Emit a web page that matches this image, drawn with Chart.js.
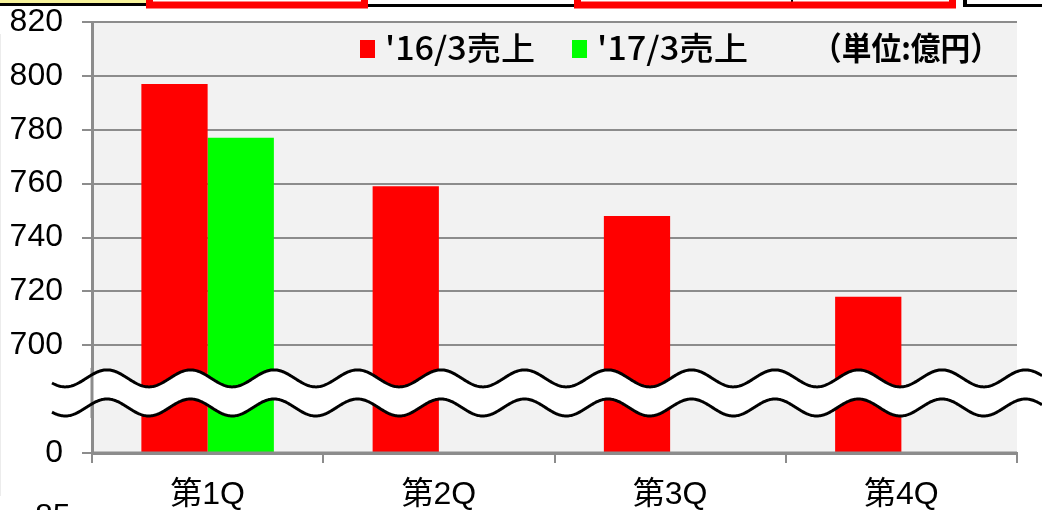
<!DOCTYPE html>
<html lang="ja">
<head>
<meta charset="utf-8">
<title>四半期売上</title>
<script src="https://cdn.jsdelivr.net/npm/chart.js@4.4.1/dist/chart.umd.min.js"></script>
<style>
  html, body { margin: 0; padding: 0; background: #fff; }
  #salesChart { display: block; }
</style>
</head>
<body>
<canvas id="salesChart" width="1042" height="510"></canvas>
<script>
const categories = ['第1Q', '第2Q', '第3Q', '第4Q'];
const sales16 = [797, 759, 748, 718];
const sales17 = [777, null, null, null];
const seriesLabels = ["'16/3売上", "'17/3売上"];
const seriesColors = ['#ff0000', '#00ff00'];
const unitLabel = '（単位:億円）';

// 縦軸は省略表示: 一番下の目盛り(660)を「0」として扱う
const yTickValues = [660, 680, 700, 720, 740, 760, 780, 800, 820];
const yTickLabels = ['0', '', '700', '720', '740', '760', '780', '800', '820'];

const AXIS_GRAY = '#8c8c8c';
const JP_FONT = "'Noto Sans CJK JP', 'Noto Sans', sans-serif";

// 横幅を指定してテキストを描く（詰まった書体に寄せるため）
function drawFitText(ctx, text, x, y, width) {
    const w = ctx.measureText(text).width;
    ctx.save();
    ctx.translate(x, y);
    ctx.scale(width / w, 1);
    ctx.fillText(text, 0, 0);
    ctx.restore();
}

// グラフ領域の背景
const plotBackground = {
    id: 'plotBackground',
    beforeDraw(chart) {
        const { ctx, chartArea: a } = chart;
        ctx.save();
        ctx.fillStyle = '#f2f2f2';
        ctx.fillRect(a.left, a.top, a.right - a.left, a.bottom - a.top);
        ctx.restore();
    }
};

// 波線の省略記号
const axisBreak = {
    id: 'axisBreak',
    afterDatasetsDraw(chart) {
        const { ctx, chartArea: a, scales: { y } } = chart;
        const upper = y.getPixelForValue(687.7);
        const lower = y.getPixelForValue(676.9);
        const amp = 8.5, period = 83.5, phase = 107;
        const x0 = 52, x1 = chart.width;
        const waveY = (cy, x) => cy - amp * Math.cos(2 * Math.PI * (x - phase) / period);

        ctx.save();
        ctx.beginPath();
        for (let x = x0; x <= x1; x++) ctx.lineTo(x, waveY(upper, x));
        for (let x = x1; x >= x0; x--) ctx.lineTo(x, waveY(lower, x));
        ctx.closePath();
        ctx.fillStyle = '#fff';
        ctx.fill();

        // 縦軸の線は波の間にも通す
        ctx.strokeStyle = AXIS_GRAY;
        ctx.lineWidth = 3;
        ctx.beginPath();
        ctx.moveTo(a.left, upper - amp - 2);
        ctx.lineTo(a.left, lower + amp + 2);
        ctx.stroke();

        // 横軸の線をバーの上に描き直す
        ctx.beginPath();
        ctx.moveTo(a.left, a.bottom);
        ctx.lineTo(a.right, a.bottom);
        ctx.stroke();

        ctx.strokeStyle = '#000';
        ctx.lineWidth = 3;
        [upper, lower].forEach(cy => {
            ctx.beginPath();
            for (let x = x0; x <= x1; x++) ctx.lineTo(x, waveY(cy, x));
            ctx.stroke();
        });
        ctx.restore();
    }
};

// 凡例と単位表記（グラフ領域の中）
const insideLegend = {
    id: 'insideLegend',
    afterDraw(chart) {
        const { ctx } = chart;
        const items = [
            { box: 360, text: 385, width: 150 },
            { box: 572, text: 597, width: 151 }
        ];
        ctx.save();
        ctx.textBaseline = 'middle';
        chart.data.datasets.forEach((ds, i) => {
            const it = items[i];
            ctx.fillStyle = ds.backgroundColor;
            ctx.fillRect(it.box, 40, 15, 18);
            ctx.fillStyle = '#000';
            ctx.font = `500 32px ${JP_FONT}`;
            drawFitText(ctx, ds.label, it.text, 48, it.width);
        });
        ctx.font = `bold 32px ${JP_FONT}`;
        drawFitText(ctx, unitLabel, 812, 48, 188);
        ctx.restore();
    }
};

// スライドの周りの枠線など
const pageFrame = {
    id: 'pageFrame',
    afterDraw(chart) {
        const { ctx } = chart;
        ctx.save();
        ctx.fillStyle = '#f7f39a';
        ctx.fillRect(0, 0, 146, 3);
        ctx.fillStyle = '#000';
        ctx.fillRect(0, 3, 146, 3);
        ctx.fillRect(368, 4, 207, 3);
        ctx.fillRect(963, 4, 79, 3);
        ctx.fillRect(963, 0, 4, 7);
        ctx.fillRect(791, 0, 2, 2);

        ctx.strokeStyle = '#ff0000';
        ctx.lineWidth = 7;
        ctx.strokeRect(149.5, -10, 215, 15);
        ctx.strokeRect(577.5, -10, 375, 15);

        ctx.fillStyle = '#ececec';
        ctx.fillRect(0, 34, 1, 462);

        ctx.fillStyle = '#000';
        ctx.font = "32px 'Liberation Sans', Arial, sans-serif";
        ctx.textBaseline = 'alphabetic';
        ctx.fillText('85', 35, 526);
        ctx.restore();
    }
};

class SalesChart {
    constructor(canvas) {
        this.chart = new Chart(canvas, {
            type: 'bar',
            data: {
                labels: categories,
                datasets: [
                    { label: seriesLabels[0], data: sales16, backgroundColor: seriesColors[0] },
                    { label: seriesLabels[1], data: sales17, backgroundColor: seriesColors[1] }
                ].map(ds => ({ ...ds, categoryPercentage: 0.573, barPercentage: 1.0, borderWidth: 0 }))
            },
            options: {
                responsive: false,
                animation: false,
                devicePixelRatio: 1,
                layout: { padding: { top: 22, right: 25, left: 0, bottom: 0 } },
                plugins: {
                    legend: { display: false },
                    tooltip: { enabled: false }
                },
                scales: {
                    x: {
                        grid: {
                            offset: true,
                            drawOnChartArea: false,
                            color: AXIS_GRAY,
                            lineWidth: 2,
                            tickLength: 10
                        },
                        border: { color: AXIS_GRAY, width: 3 },
                        ticks: {
                            color: '#000',
                            padding: 13,
                            font: { family: "'Liberation Sans', 'Noto Sans CJK JP', sans-serif", size: 32 }
                        },
                        afterFit: scale => {
                            scale.height = 57;
                            scale.paddingLeft = 0;
                            scale.paddingRight = 0;
                        }
                    },
                    y: {
                        min: yTickValues[0],
                        max: yTickValues[yTickValues.length - 1],
                        afterBuildTicks: scale => {
                            scale.ticks = yTickValues.map(v => ({ value: v }));
                        },
                        grid: { color: AXIS_GRAY, lineWidth: 2, tickLength: 10 },
                        border: { color: AXIS_GRAY, width: 3 },
                        ticks: {
                            color: '#000',
                            padding: 19,
                            font: { family: "'Liberation Sans', Arial, sans-serif", size: 32 },
                            callback: value => yTickLabels[yTickValues.indexOf(value)] ?? ''
                        },
                        afterFit: scale => {
                            scale.width = 92;
                            scale.paddingTop = 0;
                            scale.paddingBottom = 0;
                        }
                    }
                }
            },
            plugins: [plotBackground, axisBreak, insideLegend, pageFrame]
        });
    }
}

document.addEventListener('DOMContentLoaded', () => {
    new SalesChart(document.getElementById('salesChart'));
});
</script>
</body>
</html>
